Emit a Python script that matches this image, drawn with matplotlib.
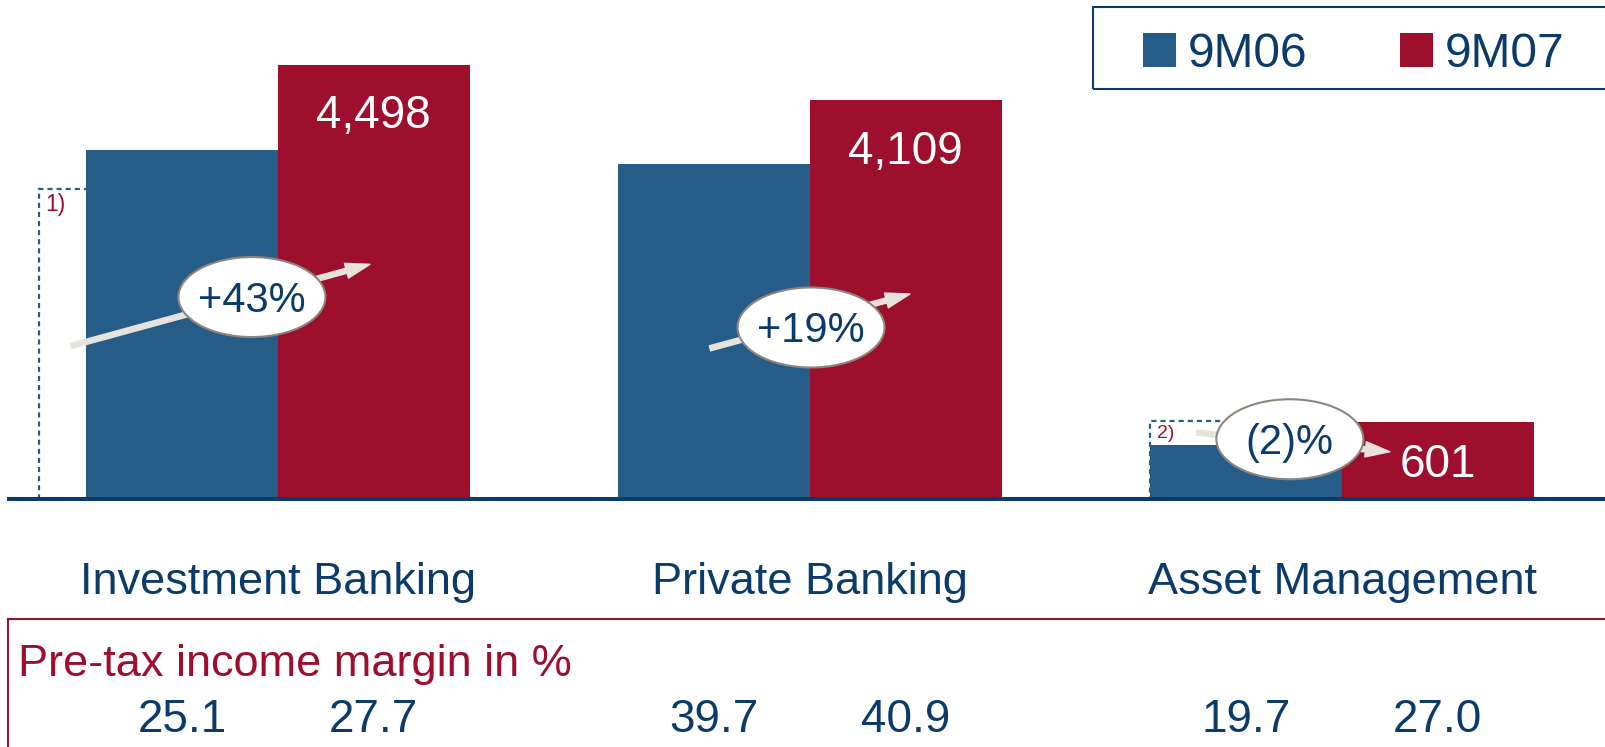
import numpy as np
import matplotlib
matplotlib.use('Agg')
import matplotlib.pyplot as plt
import matplotlib.transforms as mtransforms
from matplotlib.patches import Rectangle, Ellipse
from matplotlib.lines import Line2D

plt.rcParams['font.family'] = ['Liberation Sans', 'DejaVu Sans']

# data
segments = ['Investment Banking', 'Private Banking', 'Asset Management']
periods = ['9M06', '9M07']
val_9m06 = [3570, 3410, 350]
val_9m07 = [4498, 4109, 601]
adj_9m06 = [3140, None, 613]        # dashed outlines, see footnotes
footnotes = ['1)', None, '2)']
growth = ['+43%', '+19%', '(2)%']
margin_9m06 = [25.1, 39.7, 19.7]
margin_9m07 = [27.7, 40.9, 27.0]

BLUE = '#265C88'
RED = '#9D0F2D'
NAVY = '#0B3B6A'
ARROW = '#E6E2DC'
ELL_EDGE = '#8E857D'

W, H = 1605, 747
base_px = 498.5          # baseline position from top
px_per_unit = 0.0917
floor = -234

fig = plt.figure(figsize=(W / 100, H / 100), dpi=100)
ax = fig.add_axes([0, (H - base_px) / H, 1, base_px / H])
ax.set_xlim(-278 / 532, (W - 278) / 532)
ax.set_ylim(floor, floor + base_px / px_per_unit)
ax.axis('off')

x = np.arange(len(segments))
w = 0.36

# dashed outlines behind the 9M06 bars
dash_left = [-0.45, None, -0.36]
note_size = [16.5, None, 14]
for i, adj in enumerate(adj_9m06):
    if adj is None:
        continue
    r = Rectangle((i + dash_left[i], floor), -dash_left[i], adj - floor,
                  fill=False, ec=BLUE, lw=1.6, ls=(0, (2.3, 1.8)), zorder=1)
    ax.add_patch(r)
    ax.annotate(footnotes[i], xy=(i + dash_left[i], adj), xytext=(5, -3),
                textcoords='offset points', ha='left', va='top',
                color=RED, fontsize=note_size[i], zorder=1)

ax.bar(x - w / 2, np.array(val_9m06) - floor, w, bottom=floor, color=BLUE, zorder=2)
ax.bar(x + w / 2, np.array(val_9m07) - floor, w, bottom=floor, color=RED, zorder=2)

# value labels in the 9M07 bars
for i, v in enumerate(val_9m07):
    if (v - floor) * px_per_unit > 150:
        xy, dy = (i + w / 2, v), -46
    else:
        xy, dy = (i + w / 2, (v + floor) / 2), -12
    ax.annotate(f'{v:,}', xy=xy, xytext=(0, dy), textcoords='offset points',
                ha='center', va='baseline', color='white', fontsize=33, zorder=5)

# growth arrows and bubbles
arrow_from = [(-0.389, 1429), (-0.188, 1404), (-0.273, 484)]
arrow_to = [(0.173, 2320), (0.188, 1996), (0.090, 276)]
bubble_at = [(-0.049, 1963), (0.002, 1631), (-0.098, 412)]
for i, g in enumerate(growth):
    (x0, y0), (x1, y1) = arrow_from[i], arrow_to[i]
    ax.annotate('', xy=(i + x1, y1), xytext=(i + x0, y0),
                arrowprops=dict(arrowstyle='simple,head_length=0.8,head_width=0.5,tail_width=0.17',
                                color=ARROW, mutation_scale=22, shrinkA=0, shrinkB=0),
                zorder=3)
    bx, by = bubble_at[i]
    ax.add_patch(Ellipse((i + bx, by), 147 / 532, 80 / px_per_unit,
                         fc='white', ec=ELL_EDGE, lw=1.5, zorder=4))
    ax.annotate(g, xy=(i + bx, by), xytext=(0, -10.5), textcoords='offset points',
                ha='center', va='baseline', color=NAVY, fontsize=30, zorder=5)

# baseline
ax.plot([(7 - 278) / 532, ax.get_xlim()[1]], [floor, floor], color=NAVY, lw=2.9,
        solid_capstyle='butt', clip_on=False, zorder=3)

# category labels and margins
trans = mtransforms.blended_transform_factory(ax.transData, fig.transFigure)
for i, name in enumerate(segments):
    ax.text(i, 1 - 594 / H, name, transform=trans, ha='center', va='baseline',
            fontsize=32.5, color=NAVY)
    ax.text(i - w / 2, 1 - 732 / H, f'{margin_9m06[i]:.1f}', transform=trans,
            ha='center', va='baseline', fontsize=33, color=NAVY)
    ax.text(i + w / 2, 1 - 732 / H, f'{margin_9m07[i]:.1f}', transform=trans,
            ha='center', va='baseline', fontsize=33, color=NAVY)

fig.text(18 / W, 1 - 676 / H, 'Pre-tax income margin in %', color=RED,
         fontsize=32.5, ha='left', va='baseline')
fig.add_artist(Line2D([8 / W, 1], [1 - 619 / H, 1 - 619 / H], color=RED, lw=1.5))
fig.add_artist(Line2D([8 / W, 8 / W], [1 - 619 / H, 0], color=RED, lw=1.5))

# legend
fig.add_artist(Rectangle((1093 / W, 1 - 89 / H), (1620 - 1093) / W, 82 / H,
                         transform=fig.transFigure, fill=False, ec=NAVY, lw=1.5))
leg_x = [1143, 1400]
for lx, lab, col in zip(leg_x, periods, [BLUE, RED]):
    fig.add_artist(Rectangle((lx / W, 1 - 67 / H), 33 / W, 34 / H,
                             transform=fig.transFigure, fc=col, ec='none'))
    fig.text((lx + 45) / W, 1 - 67 / H, lab, color=NAVY, fontsize=34.5,
             ha='left', va='baseline')

fig.savefig('out.png', dpi=100)
